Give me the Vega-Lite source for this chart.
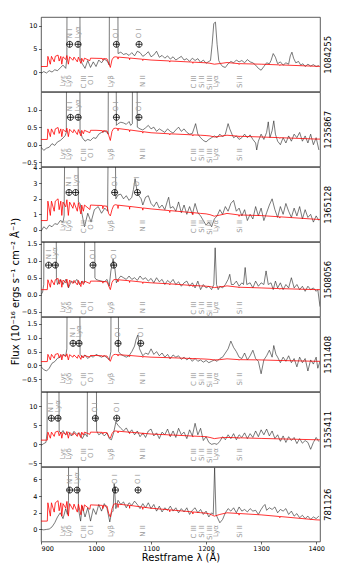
{
"$schema": "https://vega.github.io/schema/vega-lite/v6.json",
"padding": {"left": 9, "top": 16, "right": 2, "bottom": 2},
"spacing": 0,
"bounds": "flush",
"config": {
 "font": "DejaVu Sans",
 "view": {"stroke": "#333", "strokeWidth": 0.8},
 "axis": {"grid": false, "domain": false, "tickColor": "#000", "tickSize": 2.5, "tickWidth": 0.6, "labelFontSize": 6.5, "labelColor": "#000", "labelPadding": 1.5, "titleFontWeight": "normal", "titleColor": "#000", "titleFontSize": 10, "labelFont": "DejaVu Sans", "titleFont": "DejaVu Sans"}
},
"datasets": {
 "lines": [{"w":939.3,"t":"Lyε"},{"w":951.2,"t":"Lyδ"},{"w":978.5,"t":"C III"},{"w":990.3,"t":"O I"},{"w":1027.2,"t":"Lyβ"},{"w":1085.5,"t":"N II"},{"w":1177.2,"t":"C III"},{"w":1191.9,"t":"Si II"},{"w":1208,"t":"Si III"},{"w":1217.2,"t":"Lyα"},{"w":1261.9,"t":"Si II"}],
 "sky": [
  {"p":1,"w":952.1,"t":"N I"},{"p":1,"w":967.3,"t":"Lyα"},{"p":1,"w":1037,"t":"O I"},{"p":1,"w":1078.2,"t":"O I"},
  {"p":2,"w":953.5,"t":"N I"},{"p":2,"w":967.5,"t":"Lyα"},{"p":2,"w":1037,"t":"O I"},{"p":2,"w":1078,"t":"O I"},
  {"p":3,"w":950.9,"t":"N I"},{"p":3,"w":963,"t":"Lyα"},{"p":3,"w":1033.9,"t":"O I"},{"p":3,"w":1075.2,"t":"O I"},
  {"p":4,"w":913.9,"t":"N I"},{"p":4,"w":926.1,"t":"Lyα"},{"p":4,"w":994.5,"t":"O I"},{"p":4,"w":1032.1,"t":"O I"},
  {"p":5,"w":958.2,"t":"N I"},{"p":5,"w":969.1,"t":"Lyα"},{"p":5,"w":1040,"t":"O I"},{"p":5,"w":1081.2,"t":"O I"},
  {"p":6,"w":918.8,"t":"N I"},{"p":6,"w":930.9,"t":"Lyα"},{"p":6,"w":998.8,"t":"O I"},{"p":6,"w":1037.6,"t":"O I"},
  {"p":7,"w":952.1,"t":"N I"},{"p":7,"w":965.5,"t":"Lyα"},{"p":7,"w":1035.2,"t":"O I"},{"p":7,"w":1076.4,"t":"O I"}
 ],
 "red": [
  {"w":900,"r1":1.2,"r2":0.15,"r3":0.6,"r4":0.15,"r5":0.14,"r6":1.1,"r7":1.0},
  {"w":911.5,"r1":1.2,"r2":0.15,"r3":0.6,"r4":0.15,"r5":0.14,"r6":1.1,"r7":1.0},
  {"w":912.5,"r1":3.4,"r2":0.45,"r3":1.85,"r4":0.44,"r5":0.40,"r6":3.2,"r7":3.2},
  {"w":917,"r1":1.7,"r2":0.23,"r3":0.93,"r4":0.22,"r5":0.20,"r6":1.6,"r7":1.6},
  {"w":919,"r1":3.4,"r2":0.45,"r3":1.85,"r4":0.44,"r5":0.40,"r6":3.2,"r7":3.2},
  {"w":924,"r1":2.21,"r2":0.29,"r3":1.2,"r4":0.29,"r5":0.26,"r6":2.08,"r7":2.08},
  {"w":926,"r1":3.4,"r2":0.45,"r3":1.85,"r4":0.44,"r5":0.40,"r6":3.2,"r7":3.2},
  {"w":931,"r1":3.67,"r2":0.49,"r3":2.0,"r4":0.48,"r5":0.43,"r6":3.46,"r7":3.46},
  {"w":933,"r1":2.38,"r2":0.32,"r3":1.3,"r4":0.31,"r5":0.28,"r6":2.24,"r7":2.24},
  {"w":936,"r1":3.4,"r2":0.45,"r3":1.85,"r4":0.44,"r5":0.40,"r6":3.2,"r7":3.2},
  {"w":937.8,"r1":1.7,"r2":0.23,"r3":0.93,"r4":0.22,"r5":0.20,"r6":1.6,"r7":1.6},
  {"w":940,"r1":3.3,"r2":0.44,"r3":1.79,"r4":0.43,"r5":0.39,"r6":3.1,"r7":3.1},
  {"w":945,"r1":2.72,"r2":0.36,"r3":1.48,"r4":0.35,"r5":0.32,"r6":2.56,"r7":2.56},
  {"w":947,"r1":3.57,"r2":0.47,"r3":1.94,"r4":0.46,"r5":0.42,"r6":3.36,"r7":3.36},
  {"w":949.7,"r1":1.7,"r2":0.23,"r3":0.93,"r4":0.22,"r5":0.20,"r6":1.6,"r7":1.6},
  {"w":952,"r1":3.3,"r2":0.44,"r3":1.79,"r4":0.43,"r5":0.39,"r6":3.1,"r7":3.1},
  {"w":958,"r1":2.55,"r2":0.34,"r3":1.39,"r4":0.33,"r5":0.30,"r6":2.4,"r7":2.4},
  {"w":960,"r1":3.23,"r2":0.43,"r3":1.76,"r4":0.42,"r5":0.38,"r6":3.04,"r7":3.04},
  {"w":966,"r1":2.21,"r2":0.29,"r3":1.2,"r4":0.29,"r5":0.26,"r6":2.08,"r7":2.08},
  {"w":968,"r1":3.23,"r2":0.43,"r3":1.76,"r4":0.42,"r5":0.38,"r6":3.04,"r7":3.04},
  {"w":972.5,"r1":1.87,"r2":0.25,"r3":1.02,"r4":0.24,"r5":0.22,"r6":1.76,"r7":1.76},
  {"w":974,"r1":3.0,"r2":0.41,"r3":1.6,"r4":0.40,"r5":0.36,"r6":3.2,"r7":2.95},
  {"w":977,"r1":2.25,"r2":0.31,"r3":1.2,"r4":0.30,"r5":0.27,"r6":2.4,"r7":2.21},
  {"w":979,"r1":3.0,"r2":0.41,"r3":1.6,"r4":0.40,"r5":0.36,"r6":3.2,"r7":2.95},
  {"w":988.8,"r1":2.46,"r2":0.34,"r3":1.31,"r4":0.33,"r5":0.30,"r6":2.62,"r7":2.42},
  {"w":990,"r1":3.0,"r2":0.41,"r3":1.6,"r4":0.40,"r5":0.36,"r6":3.2,"r7":2.95},
  {"w":1000,"r1":2.97,"r2":0.41,"r3":1.58,"r4":0.40,"r5":0.36,"r6":3.17,"r7":2.92},
  {"w":1011.5,"r1":2.94,"r2":0.40,"r3":1.57,"r4":0.39,"r5":0.35,"r6":3.14,"r7":2.89},
  {"w":1012.5,"r1":2.55,"r2":0.35,"r3":1.36,"r4":0.34,"r5":0.31,"r6":2.72,"r7":2.51},
  {"w":1013.5,"r1":2.91,"r2":0.40,"r3":1.55,"r4":0.39,"r5":0.35,"r6":3.1,"r7":2.86},
  {"w":1020,"r1":2.85,"r2":0.39,"r3":1.52,"r4":0.38,"r5":0.34,"r6":3.04,"r7":2.8},
  {"w":1023,"r1":1.95,"r2":0.27,"r3":1.04,"r4":0.26,"r5":0.23,"r6":2.08,"r7":1.92},
  {"w":1026,"r1":1.0,"r2":0.12,"r3":0.9,"r4":0.15,"r5":0.15,"r6":1.6,"r7":1.5},
  {"w":1029,"r1":2.64,"r2":0.38,"r3":1.3,"r4":0.36,"r5":0.32,"r6":2.8,"r7":2.48},
  {"w":1032,"r1":3.2,"r2":0.46,"r3":1.57,"r4":0.44,"r5":0.39,"r6":3.4,"r7":3.0},
  {"w":1035,"r1":3.3,"r2":0.47,"r3":1.62,"r4":0.45,"r5":0.40,"r6":3.5,"r7":3.1},
  {"w":1039.5,"r1":3.23,"r2":0.46,"r3":1.59,"r4":0.44,"r5":0.39,"r6":3.43,"r7":3.04},
  {"w":1040,"r1":2.8,"r2":0.40,"r3":1.38,"r4":0.38,"r5":0.34,"r6":2.98,"r7":2.64},
  {"w":1040.5,"r1":3.23,"r2":0.46,"r3":1.59,"r4":0.44,"r5":0.39,"r6":3.43,"r7":3.04},
  {"w":1060.5,"r1":3.03,"r2":0.42,"r3":1.51,"r4":0.41,"r5":0.36,"r6":3.19,"r7":2.89},
  {"w":1061,"r1":2.67,"r2":0.37,"r3":1.33,"r4":0.36,"r5":0.32,"r6":2.81,"r7":2.54},
  {"w":1061.5,"r1":3.03,"r2":0.42,"r3":1.51,"r4":0.41,"r5":0.36,"r6":3.19,"r7":2.89},
  {"w":1084.5,"r1":2.77,"r2":0.37,"r3":1.41,"r4":0.37,"r5":0.32,"r6":2.89,"r7":2.68},
  {"w":1085,"r1":2.49,"r2":0.33,"r3":1.27,"r4":0.33,"r5":0.29,"r6":2.6,"r7":2.41},
  {"w":1085.5,"r1":2.77,"r2":0.37,"r3":1.41,"r4":0.37,"r5":0.32,"r6":2.89,"r7":2.68},
  {"w":1100,"r1":2.6,"r2":0.34,"r3":1.35,"r4":0.35,"r5":0.30,"r6":2.7,"r7":2.55},
  {"w":1133.5,"r1":2.4,"r2":0.31,"r3":1.24,"r4":0.32,"r5":0.28,"r6":2.47,"r7":2.35},
  {"w":1134,"r1":2.16,"r2":0.28,"r3":1.12,"r4":0.29,"r5":0.25,"r6":2.22,"r7":2.12},
  {"w":1134.5,"r1":2.4,"r2":0.31,"r3":1.24,"r4":0.32,"r5":0.28,"r6":2.47,"r7":2.35},
  {"w":1175.5,"r1":2.15,"r2":0.28,"r3":1.11,"r4":0.27,"r5":0.25,"r6":2.17,"r7":2.1},
  {"w":1176,"r1":1.89,"r2":0.25,"r3":0.98,"r4":0.24,"r5":0.22,"r6":1.91,"r7":1.85},
  {"w":1176.5,"r1":2.15,"r2":0.28,"r3":1.11,"r4":0.27,"r5":0.25,"r6":2.17,"r7":2.1},
  {"w":1190,"r1":2.06,"r2":0.27,"r3":1.06,"r4":0.26,"r5":0.24,"r6":2.07,"r7":2.01},
  {"w":1200,"r1":2.0,"r2":0.26,"r3":1.03,"r4":0.25,"r5":0.23,"r6":2.0,"r7":1.95},
  {"w":1207,"r1":1.9,"r2":0.25,"r3":0.98,"r4":0.24,"r5":0.22,"r6":1.8,"r7":1.85},
  {"w":1215,"r1":1.7,"r2":0.22,"r3":0.88,"r4":0.21,"r5":0.20,"r6":1.5,"r7":1.6},
  {"w":1225,"r1":1.84,"r2":0.24,"r3":0.95,"r4":0.23,"r5":0.21,"r6":1.7,"r7":1.8},
  {"w":1238,"r1":2.06,"r2":0.27,"r3":1.06,"r4":0.26,"r5":0.24,"r6":1.8,"r7":2.0},
  {"w":1259.5,"r1":1.82,"r2":0.24,"r3":0.96,"r4":0.22,"r5":0.21,"r6":1.71,"r7":1.91},
  {"w":1260,"r1":1.64,"r2":0.21,"r3":0.87,"r4":0.20,"r5":0.19,"r6":1.54,"r7":1.72},
  {"w":1260.5,"r1":1.82,"r2":0.24,"r3":0.96,"r4":0.22,"r5":0.21,"r6":1.71,"r7":1.91},
  {"w":1300,"r1":1.7,"r2":0.22,"r3":0.92,"r4":0.20,"r5":0.20,"r6":1.55,"r7":1.75},
  {"w":1333.5,"r1":1.55,"r2":0.20,"r3":0.84,"r4":0.18,"r5":0.18,"r6":1.43,"r7":1.55},
  {"w":1334,"r1":1.4,"r2":0.18,"r3":0.76,"r4":0.16,"r5":0.16,"r6":1.29,"r7":1.4},
  {"w":1334.5,"r1":1.55,"r2":0.20,"r3":0.84,"r4":0.18,"r5":0.18,"r6":1.43,"r7":1.55},
  {"w":1400,"r1":1.25,"r2":0.16,"r3":0.68,"r4":0.15,"r5":0.15,"r6":1.2,"r7":1.15},
  {"w":1407,"r1":1.23,"r2":0.16,"r3":0.67,"r4":0.15,"r5":0.15,"r6":1.18,"r7":1.13}
 ],
 "b1": [{"w":900,"f":-0.3},{"w":905,"f":0.1},{"w":910,"f":-0.2},{"w":915,"f":0.3},{"w":920,"f":0.0},{"w":925,"f":0.5},{"w":930,"f":0.3},{"w":935,"f":0.9},{"w":940,"f":1.5},{"w":945,"f":0.8},{"w":947,"f":3},{"w":949,"f":99},{"w":969,"f":99},{"w":971,"f":3.0},{"w":975,"f":1.8},{"w":980,"f":0.8},{"w":985,"f":2.5},{"w":990,"f":1.0},{"w":995,"f":2.2},{"w":1000,"f":1.2},{"w":1005,"f":2.6},{"w":1010,"f":2.0},{"w":1015,"f":2.8},{"w":1020,"f":2.4},{"w":1024,"f":1.5},{"w":1026,"f":99},{"w":1038,"f":99},{"w":1040,"f":4.0},{"w":1045,"f":4.3},{"w":1050,"f":3.8},{"w":1055,"f":4.0},{"w":1060,"f":3.6},{"w":1065,"f":4.2},{"w":1070,"f":3.5},{"w":1075,"f":4.5},{"w":1080,"f":4.2},{"w":1085,"f":3.4},{"w":1090,"f":3.8},{"w":1095,"f":4.4},{"w":1100,"f":3.3},{"w":1105,"f":3.7},{"w":1110,"f":4.5},{"w":1115,"f":3.2},{"w":1120,"f":3.6},{"w":1125,"f":3.0},{"w":1130,"f":3.5},{"w":1135,"f":2.8},{"w":1140,"f":3.3},{"w":1145,"f":2.6},{"w":1150,"f":3.0},{"w":1155,"f":3.4},{"w":1160,"f":2.6},{"w":1165,"f":2.9},{"w":1170,"f":2.3},{"w":1175,"f":3.0},{"w":1180,"f":2.5},{"w":1185,"f":2.9},{"w":1190,"f":2.1},{"w":1195,"f":2.6},{"w":1200,"f":1.9},{"w":1205,"f":2.3},{"w":1208,"f":2.5},{"w":1211,"f":6.0},{"w":1214,"f":10.5},{"w":1217,"f":10.8},{"w":1220,"f":6.0},{"w":1223,"f":2.5},{"w":1226,"f":1.8},{"w":1230,"f":1.2},{"w":1235,"f":1.0},{"w":1240,"f":1.8},{"w":1245,"f":2.3},{"w":1250,"f":2.0},{"w":1255,"f":2.6},{"w":1260,"f":2.2},{"w":1265,"f":2.5},{"w":1270,"f":2.0},{"w":1275,"f":2.7},{"w":1280,"f":2.2},{"w":1285,"f":2.0},{"w":1290,"f":1.5},{"w":1295,"f":0.8},{"w":1300,"f":0.4},{"w":1305,"f":1.2},{"w":1310,"f":2.0},{"w":1315,"f":1.8},{"w":1318,"f":2.5},{"w":1322,"f":4.0},{"w":1326,"f":3.2},{"w":1330,"f":1.8},{"w":1335,"f":2.2},{"w":1340,"f":1.5},{"w":1345,"f":2.0},{"w":1350,"f":1.7},{"w":1353,"f":3.5},{"w":1356,"f":4.3},{"w":1359,"f":3.0},{"w":1363,"f":2.0},{"w":1368,"f":2.3},{"w":1372,"f":1.5},{"w":1376,"f":1.8},{"w":1380,"f":1.2},{"w":1385,"f":1.7},{"w":1390,"f":1.3},{"w":1395,"f":1.6},{"w":1400,"f":1.2},{"w":1405,"f":1.4}],
 "b2": [{"w":900,"f":-0.07},{"w":905,"f":-0.16},{"w":910,"f":-0.1},{"w":915,"f":-0.07},{"w":920,"f":0.03},{"w":925,"f":-0.02},{"w":930,"f":0.08},{"w":935,"f":0.12},{"w":940,"f":0.19},{"w":944,"f":0.26},{"w":946,"f":0.35},{"w":948,"f":9},{"w":969,"f":9},{"w":971,"f":0.4},{"w":975,"f":0.2},{"w":980,"f":0.1},{"w":985,"f":0.15},{"w":990,"f":0.12},{"w":995,"f":0.2},{"w":1000,"f":0.18},{"w":1005,"f":0.3},{"w":1010,"f":0.35},{"w":1015,"f":0.38},{"w":1020,"f":0.36},{"w":1022,"f":0.3},{"w":1024,"f":9},{"w":1035,"f":9},{"w":1037,"f":0.55},{"w":1040,"f":0.6},{"w":1045,"f":0.64},{"w":1050,"f":0.62},{"w":1055,"f":0.58},{"w":1060,"f":0.66},{"w":1063,"f":0.55},{"w":1066,"f":0.6},{"w":1067,"f":9},{"w":1073,"f":9},{"w":1075,"f":0.5},{"w":1080,"f":0.45},{"w":1085,"f":0.42},{"w":1090,"f":0.48},{"w":1095,"f":0.55},{"w":1100,"f":0.45},{"w":1105,"f":0.5},{"w":1110,"f":0.38},{"w":1115,"f":0.45},{"w":1120,"f":0.4},{"w":1125,"f":0.35},{"w":1130,"f":0.45},{"w":1135,"f":0.38},{"w":1140,"f":0.33},{"w":1145,"f":0.42},{"w":1150,"f":0.5},{"w":1155,"f":0.38},{"w":1160,"f":0.45},{"w":1165,"f":0.35},{"w":1170,"f":0.3},{"w":1175,"f":0.32},{"w":1181,"f":0.6},{"w":1185,"f":0.3},{"w":1190,"f":0.2},{"w":1195,"f":0.12},{"w":1200,"f":0.08},{"w":1205,"f":0.15},{"w":1210,"f":0.2},{"w":1215,"f":0.25},{"w":1220,"f":0.2},{"w":1225,"f":0.3},{"w":1230,"f":0.22},{"w":1235,"f":0.3},{"w":1240,"f":0.6},{"w":1243,"f":0.45},{"w":1247,"f":0.3},{"w":1250,"f":0.2},{"w":1255,"f":0.25},{"w":1260,"f":0.15},{"w":1265,"f":0.2},{"w":1270,"f":0.3},{"w":1275,"f":0.2},{"w":1280,"f":0.28},{"w":1285,"f":0.15},{"w":1290,"f":0.05},{"w":1292,"f":-0.15},{"w":1295,"f":0.1},{"w":1300,"f":0.3},{"w":1305,"f":0.15},{"w":1310,"f":0.35},{"w":1313,"f":0.65},{"w":1316,"f":0.2},{"w":1320,"f":0.4},{"w":1323,"f":0.68},{"w":1326,"f":0.3},{"w":1330,"f":0.1},{"w":1335,"f":0.0},{"w":1340,"f":0.2},{"w":1345,"f":0.05},{"w":1350,"f":0.25},{"w":1355,"f":0.1},{"w":1360,"f":0.3},{"w":1365,"f":0.2},{"w":1370,"f":0.35},{"w":1375,"f":0.1},{"w":1380,"f":0.25},{"w":1385,"f":0.05},{"w":1390,"f":0.3},{"w":1395,"f":0.0},{"w":1400,"f":0.2},{"w":1405,"f":-0.15}],
 "b3": [{"w":900,"f":-0.1},{"w":905,"f":0.2},{"w":910,"f":0.05},{"w":915,"f":0.3},{"w":920,"f":0.2},{"w":925,"f":0.4},{"w":930,"f":0.35},{"w":935,"f":0.6},{"w":940,"f":0.5},{"w":942,"f":0.9},{"w":944,"f":9},{"w":966,"f":9},{"w":968,"f":1.8},{"w":971,"f":1.7},{"w":976,"f":0.75},{"w":979,"f":0.2},{"w":985,"f":1.07},{"w":991,"f":0.5},{"w":997,"f":1.3},{"w":1004,"f":1.5},{"w":1010,"f":1.07},{"w":1016,"f":1.4},{"w":1021,"f":1.2},{"w":1023,"f":9},{"w":1034,"f":9},{"w":1036,"f":2.0},{"w":1040,"f":2.25},{"w":1045,"f":2.3},{"w":1050,"f":2.0},{"w":1055,"f":2.2},{"w":1060,"f":1.9},{"w":1065,"f":2.1},{"w":1068,"f":2.6},{"w":1071,"f":3.3},{"w":1074,"f":2.6},{"w":1078,"f":2.2},{"w":1082,"f":2.0},{"w":1085,"f":1.6},{"w":1090,"f":2.1},{"w":1095,"f":2.2},{"w":1100,"f":1.7},{"w":1105,"f":1.5},{"w":1110,"f":1.8},{"w":1115,"f":1.4},{"w":1120,"f":1.6},{"w":1125,"f":1.3},{"w":1130,"f":1.9},{"w":1132,"f":2.1},{"w":1135,"f":1.4},{"w":1140,"f":1.5},{"w":1145,"f":1.2},{"w":1150,"f":1.8},{"w":1155,"f":1.1},{"w":1160,"f":1.6},{"w":1165,"f":1.0},{"w":1170,"f":1.5},{"w":1175,"f":1.0},{"w":1180,"f":1.7},{"w":1185,"f":1.1},{"w":1190,"f":0.9},{"w":1195,"f":0.6},{"w":1200,"f":0.3},{"w":1205,"f":0.5},{"w":1210,"f":0.2},{"w":1215,"f":0.7},{"w":1220,"f":0.9},{"w":1225,"f":1.3},{"w":1230,"f":1.0},{"w":1235,"f":1.5},{"w":1240,"f":1.2},{"w":1245,"f":1.7},{"w":1250,"f":1.9},{"w":1255,"f":1.2},{"w":1260,"f":1.4},{"w":1265,"f":0.9},{"w":1270,"f":1.3},{"w":1275,"f":0.6},{"w":1280,"f":1.0},{"w":1285,"f":0.7},{"w":1290,"f":1.5},{"w":1295,"f":0.9},{"w":1300,"f":1.4},{"w":1305,"f":0.6},{"w":1310,"f":1.1},{"w":1315,"f":1.6},{"w":1320,"f":2.0},{"w":1325,"f":1.3},{"w":1330,"f":0.8},{"w":1335,"f":1.5},{"w":1340,"f":1.0},{"w":1345,"f":1.7},{"w":1350,"f":1.2},{"w":1355,"f":0.8},{"w":1360,"f":1.4},{"w":1365,"f":0.9},{"w":1370,"f":1.5},{"w":1375,"f":0.7},{"w":1380,"f":1.3},{"w":1385,"f":0.8},{"w":1390,"f":1.0},{"w":1395,"f":0.5},{"w":1400,"f":0.9},{"w":1405,"f":0.6}],
 "b4": [{"w":900,"f":0.0},{"w":903,"f":0.08},{"w":905,"f":0.3},{"w":907,"f":9},{"w":926,"f":9},{"w":928,"f":0.5},{"w":930,"f":0.3},{"w":935,"f":0.45},{"w":940,"f":0.3},{"w":945,"f":0.45},{"w":950,"f":0.2},{"w":955,"f":0.4},{"w":960,"f":0.35},{"w":965,"f":0.45},{"w":970,"f":0.3},{"w":975,"f":0.4},{"w":979,"f":0.35},{"w":981,"f":9},{"w":996,"f":9},{"w":998,"f":0.5},{"w":1000,"f":0.45},{"w":1005,"f":0.42},{"w":1010,"f":0.4},{"w":1015,"f":0.38},{"w":1020,"f":0.45},{"w":1024,"f":0.25},{"w":1027,"f":0.7},{"w":1031,"f":1.05},{"w":1034,"f":0.8},{"w":1037,"f":0.35},{"w":1040,"f":0.45},{"w":1045,"f":0.55},{"w":1050,"f":0.5},{"w":1055,"f":0.45},{"w":1060,"f":0.55},{"w":1065,"f":0.45},{"w":1070,"f":0.5},{"w":1075,"f":0.42},{"w":1080,"f":0.55},{"w":1085,"f":0.45},{"w":1090,"f":0.5},{"w":1095,"f":0.4},{"w":1100,"f":0.48},{"w":1105,"f":0.35},{"w":1110,"f":0.5},{"w":1115,"f":0.38},{"w":1120,"f":0.45},{"w":1125,"f":0.3},{"w":1130,"f":0.42},{"w":1135,"f":0.35},{"w":1140,"f":0.45},{"w":1145,"f":0.3},{"w":1150,"f":0.38},{"w":1155,"f":0.25},{"w":1160,"f":0.35},{"w":1165,"f":0.4},{"w":1170,"f":0.25},{"w":1175,"f":0.35},{"w":1180,"f":0.2},{"w":1185,"f":0.4},{"w":1190,"f":0.15},{"w":1195,"f":0.3},{"w":1200,"f":0.2},{"w":1205,"f":0.25},{"w":1210,"f":0.15},{"w":1214,"f":0.3},{"w":1216.5,"f":1.38},{"w":1219,"f":0.3},{"w":1222,"f":0.15},{"w":1225,"f":0.25},{"w":1230,"f":0.2},{"w":1235,"f":0.3},{"w":1240,"f":0.45},{"w":1243,"f":0.6},{"w":1246,"f":0.3},{"w":1250,"f":0.3},{"w":1255,"f":0.4},{"w":1260,"f":0.25},{"w":1265,"f":0.35},{"w":1268,"f":0.3},{"w":1271,"f":0.8},{"w":1274,"f":0.3},{"w":1280,"f":0.35},{"w":1285,"f":0.2},{"w":1290,"f":0.4},{"w":1295,"f":0.25},{"w":1300,"f":0.35},{"w":1305,"f":0.3},{"w":1309,"f":0.7},{"w":1313,"f":0.3},{"w":1318,"f":0.35},{"w":1322,"f":0.15},{"w":1326,"f":0.4},{"w":1330,"f":0.2},{"w":1335,"f":0.35},{"w":1340,"f":0.15},{"w":1345,"f":0.3},{"w":1350,"f":0.2},{"w":1355,"f":0.5},{"w":1360,"f":0.2},{"w":1365,"f":0.3},{"w":1370,"f":0.15},{"w":1375,"f":0.25},{"w":1380,"f":0.1},{"w":1385,"f":0.25},{"w":1390,"f":0.15},{"w":1395,"f":0.2},{"w":1400,"f":0.1},{"w":1403,"f":0.15},{"w":1407,"f":-0.35}],
 "b5": [{"w":900,"f":-0.04},{"w":905,"f":-0.15},{"w":910,"f":-0.2},{"w":915,"f":-0.1},{"w":920,"f":0.08},{"w":925,"f":0.14},{"w":930,"f":0.26},{"w":935,"f":0.3},{"w":940,"f":0.4},{"w":945,"f":0.35},{"w":947,"f":0.6},{"w":949,"f":9},{"w":969,"f":9},{"w":971,"f":0.4},{"w":975,"f":0.3},{"w":980,"f":0.38},{"w":985,"f":0.25},{"w":990,"f":0.35},{"w":995,"f":0.3},{"w":1000,"f":0.4},{"w":1005,"f":0.35},{"w":1010,"f":0.3},{"w":1015,"f":0.35},{"w":1020,"f":0.28},{"w":1024,"f":0.2},{"w":1027,"f":0.5},{"w":1028,"f":9},{"w":1039,"f":9},{"w":1041,"f":0.5},{"w":1045,"f":0.4},{"w":1050,"f":0.35},{"w":1055,"f":0.3},{"w":1060,"f":0.35},{"w":1065,"f":0.5},{"w":1070,"f":0.7},{"w":1073,"f":0.95},{"w":1076,"f":1.1},{"w":1079,"f":0.6},{"w":1085,"f":0.35},{"w":1090,"f":0.45},{"w":1095,"f":0.4},{"w":1100,"f":0.6},{"w":1105,"f":0.4},{"w":1110,"f":0.5},{"w":1115,"f":0.35},{"w":1120,"f":0.45},{"w":1125,"f":0.3},{"w":1130,"f":0.4},{"w":1135,"f":0.25},{"w":1140,"f":0.38},{"w":1145,"f":0.3},{"w":1150,"f":0.35},{"w":1155,"f":0.22},{"w":1160,"f":0.3},{"w":1165,"f":0.2},{"w":1170,"f":0.28},{"w":1175,"f":0.15},{"w":1180,"f":0.25},{"w":1185,"f":0.15},{"w":1190,"f":0.2},{"w":1195,"f":0.12},{"w":1200,"f":0.18},{"w":1205,"f":0.1},{"w":1210,"f":0.15},{"w":1215,"f":0.2},{"w":1220,"f":0.15},{"w":1225,"f":0.25},{"w":1230,"f":0.3},{"w":1235,"f":0.45},{"w":1240,"f":0.6},{"w":1245,"f":0.88},{"w":1250,"f":0.65},{"w":1255,"f":0.5},{"w":1260,"f":0.3},{"w":1265,"f":0.25},{"w":1270,"f":0.45},{"w":1275,"f":0.2},{"w":1280,"f":0.35},{"w":1285,"f":0.55},{"w":1290,"f":0.25},{"w":1295,"f":0.15},{"w":1300,"f":-0.3},{"w":1305,"f":0.2},{"w":1310,"f":0.35},{"w":1315,"f":0.55},{"w":1320,"f":0.3},{"w":1323,"f":0.72},{"w":1327,"f":0.4},{"w":1330,"f":0.3},{"w":1335,"f":0.1},{"w":1340,"f":0.3},{"w":1345,"f":0.15},{"w":1350,"f":0.35},{"w":1355,"f":0.1},{"w":1360,"f":0.25},{"w":1365,"f":-0.05},{"w":1370,"f":0.3},{"w":1375,"f":0.1},{"w":1380,"f":0.25},{"w":1385,"f":-0.2},{"w":1390,"f":0.2},{"w":1395,"f":0.05},{"w":1400,"f":0.3},{"w":1403,"f":-0.1},{"w":1407,"f":0.15}],
 "b6": [{"w":900,"f":-0.3},{"w":905,"f":0.2},{"w":909,"f":0.5},{"w":911,"f":3.0},{"w":913,"f":99},{"w":930,"f":99},{"w":933,"f":3.5},{"w":936,"f":2.8},{"w":940,"f":3.6},{"w":945,"f":2.5},{"w":950,"f":3.2},{"w":955,"f":2.2},{"w":960,"f":3.4},{"w":965,"f":2.6},{"w":970,"f":3.0},{"w":975,"f":1.5},{"w":980,"f":2.8},{"w":984,"f":2.0},{"w":986,"f":99},{"w":999,"f":99},{"w":1001,"f":3.5},{"w":1005,"f":2.5},{"w":1010,"f":3.0},{"w":1015,"f":2.2},{"w":1020,"f":3.0},{"w":1024,"f":1.5},{"w":1028,"f":1.2},{"w":1032,"f":3.0},{"w":1036,"f":5.8},{"w":1040,"f":5.0},{"w":1045,"f":4.2},{"w":1050,"f":3.5},{"w":1055,"f":4.3},{"w":1060,"f":3.0},{"w":1065,"f":3.8},{"w":1070,"f":2.5},{"w":1075,"f":3.5},{"w":1080,"f":2.0},{"w":1085,"f":3.0},{"w":1090,"f":1.8},{"w":1095,"f":3.5},{"w":1100,"f":4.0},{"w":1105,"f":2.2},{"w":1110,"f":3.0},{"w":1115,"f":1.5},{"w":1120,"f":3.2},{"w":1125,"f":2.5},{"w":1130,"f":4.0},{"w":1135,"f":2.0},{"w":1140,"f":3.5},{"w":1145,"f":1.8},{"w":1150,"f":4.2},{"w":1155,"f":2.5},{"w":1160,"f":3.2},{"w":1165,"f":1.5},{"w":1170,"f":3.8},{"w":1175,"f":2.2},{"w":1180,"f":5.5},{"w":1185,"f":2.5},{"w":1190,"f":4.2},{"w":1195,"f":1.0},{"w":1200,"f":2.0},{"w":1205,"f":0.5},{"w":1210,"f":0.0},{"w":1215,"f":0.2},{"w":1220,"f":0.0},{"w":1225,"f":0.8},{"w":1230,"f":2.0},{"w":1235,"f":1.2},{"w":1240,"f":2.5},{"w":1245,"f":1.5},{"w":1250,"f":2.8},{"w":1255,"f":1.2},{"w":1260,"f":2.5},{"w":1265,"f":1.8},{"w":1270,"f":3.0},{"w":1275,"f":1.5},{"w":1280,"f":2.8},{"w":1285,"f":1.8},{"w":1290,"f":3.5},{"w":1295,"f":2.0},{"w":1300,"f":3.8},{"w":1305,"f":2.5},{"w":1310,"f":4.0},{"w":1315,"f":2.2},{"w":1320,"f":3.5},{"w":1325,"f":1.5},{"w":1330,"f":2.5},{"w":1335,"f":0.8},{"w":1340,"f":2.2},{"w":1345,"f":0.5},{"w":1350,"f":2.0},{"w":1355,"f":1.0},{"w":1360,"f":1.8},{"w":1365,"f":0.2},{"w":1370,"f":1.5},{"w":1375,"f":0.3},{"w":1380,"f":1.0},{"w":1385,"f":0.5},{"w":1390,"f":-1.3},{"w":1395,"f":0.5},{"w":1400,"f":1.8},{"w":1405,"f":0.7}],
 "b7": [{"w":900,"f":0.0},{"w":905,"f":-0.05},{"w":910,"f":0.0},{"w":915,"f":0.05},{"w":920,"f":0.3},{"w":925,"f":0.8},{"w":930,"f":1.5},{"w":935,"f":2.0},{"w":940,"f":1.3},{"w":945,"f":2.5},{"w":948,"f":1.8},{"w":950,"f":3.5},{"w":952,"f":99},{"w":966,"f":99},{"w":968,"f":2.5},{"w":972,"f":1.0},{"w":975,"f":2.8},{"w":980,"f":1.5},{"w":985,"f":2.6},{"w":990,"f":1.0},{"w":995,"f":2.5},{"w":1000,"f":1.8},{"w":1005,"f":3.0},{"w":1010,"f":2.2},{"w":1015,"f":3.1},{"w":1020,"f":2.5},{"w":1025,"f":0.9},{"w":1028,"f":2.0},{"w":1031,"f":2.2},{"w":1033,"f":5.5},{"w":1036,"f":2.5},{"w":1040,"f":3.5},{"w":1045,"f":3.0},{"w":1050,"f":3.3},{"w":1055,"f":2.6},{"w":1060,"f":3.2},{"w":1065,"f":2.9},{"w":1070,"f":3.4},{"w":1075,"f":3.0},{"w":1080,"f":2.5},{"w":1085,"f":3.1},{"w":1090,"f":2.6},{"w":1095,"f":3.2},{"w":1100,"f":2.5},{"w":1105,"f":3.0},{"w":1110,"f":2.2},{"w":1115,"f":2.8},{"w":1120,"f":2.1},{"w":1125,"f":2.6},{"w":1130,"f":2.3},{"w":1135,"f":2.8},{"w":1140,"f":2.2},{"w":1145,"f":2.6},{"w":1150,"f":2.0},{"w":1155,"f":2.5},{"w":1160,"f":2.1},{"w":1165,"f":2.6},{"w":1170,"f":1.8},{"w":1175,"f":2.3},{"w":1180,"f":2.6},{"w":1185,"f":2.0},{"w":1190,"f":2.4},{"w":1195,"f":1.8},{"w":1200,"f":2.2},{"w":1205,"f":1.5},{"w":1210,"f":2.0},{"w":1213,"f":1.8},{"w":1215.5,"f":7.4},{"w":1218,"f":1.8},{"w":1220,"f":1.5},{"w":1225,"f":0.8},{"w":1230,"f":1.2},{"w":1235,"f":2.0},{"w":1240,"f":2.5},{"w":1245,"f":2.2},{"w":1250,"f":2.6},{"w":1255,"f":2.0},{"w":1260,"f":2.7},{"w":1265,"f":2.2},{"w":1270,"f":2.4},{"w":1275,"f":2.1},{"w":1280,"f":2.5},{"w":1285,"f":2.2},{"w":1290,"f":2.3},{"w":1295,"f":1.8},{"w":1300,"f":2.4},{"w":1304,"f":2.8},{"w":1307,"f":3.0},{"w":1310,"f":2.3},{"w":1315,"f":2.6},{"w":1320,"f":2.4},{"w":1325,"f":2.7},{"w":1330,"f":2.0},{"w":1335,"f":2.4},{"w":1340,"f":2.2},{"w":1345,"f":2.5},{"w":1350,"f":1.8},{"w":1355,"f":2.2},{"w":1360,"f":1.6},{"w":1365,"f":1.9},{"w":1370,"f":1.4},{"w":1375,"f":1.7},{"w":1380,"f":1.3},{"w":1385,"f":1.6},{"w":1390,"f":1.2},{"w":1395,"f":1.5},{"w":1400,"f":1.3},{"w":1405,"f":1.6}]
},
"vconcat": [
 {"width": 279, "height": 74.5,
  "encoding": {"x": {"field": "w", "type": "quantitative", "scale": {"domain": [900, 1407], "nice": false, "zero": false}, "axis": null}},
  "layer": [
   {"data": {"name": "b1"}, "mark": {"type": "line", "color": "#222", "strokeWidth": 0.6, "clip": true}, "encoding": {"y": {"field": "f", "type": "quantitative", "scale": {"domain": [-4.2, 11.9], "nice": false, "zero": false}, "axis": {"values": [0, 5, 10], "format": "d", "title": null}}}},
   {"data": {"name": "red"}, "mark": {"type": "line", "color": "#ff0000", "strokeWidth": 0.8, "clip": true}, "encoding": {"y": {"field": "r1", "type": "quantitative", "axis": {"orient": "right", "title": "1084255", "labels": false, "ticks": false, "titleAngle": 270, "titleBaseline": "top", "titleAlign": "center", "titlePadding": 3, "titleFontSize": 8.5}}}},
   {"data": {"name": "lines"}, "mark": {"type": "text", "angle": 270, "align": "right", "baseline": "middle", "fontSize": 7, "color": "#999"}, "encoding": {"y": {"datum": -0.7, "type": "quantitative", "axis": null}, "text": {"field": "t"}}},
   {"data": {"name": "sky"}, "transform": [{"filter": "datum.p == 1"}], "mark": {"type": "text", "angle": 270, "align": "left", "baseline": "middle", "dx": 6, "fontSize": 7, "color": "#999"}, "encoding": {"y": {"datum": 6.0, "type": "quantitative", "axis": null}, "text": {"field": "t"}}},
   {"data": {"name": "sky"}, "transform": [{"filter": "datum.p == 1"}], "mark": {"type": "point", "shape": "M-1,0A1,1,0,1,1,1,0A1,1,0,1,1,-1,0ZM-1,0L1,0M0,-1L0,1", "size": 36, "filled": false, "color": "#000", "strokeWidth": 0.8, "opacity": 1}, "encoding": {"y": {"datum": 6.0, "type": "quantitative", "axis": null}}}
  ],
  "resolve": {"axis": {"y": "independent"}}
 },
 {"width": 279, "height": 74.5,
  "encoding": {"x": {"field": "w", "type": "quantitative", "scale": {"domain": [900, 1407], "nice": false, "zero": false}, "axis": null}},
  "layer": [
   {"data": {"name": "b2"}, "mark": {"type": "line", "color": "#222", "strokeWidth": 0.6, "clip": true}, "encoding": {"y": {"field": "f", "type": "quantitative", "scale": {"domain": [-0.62, 1.5], "nice": false, "zero": false}, "axis": {"values": [-0.5, 0, 0.5, 1], "format": ".1f", "title": null}}}},
   {"data": {"name": "red"}, "mark": {"type": "line", "color": "#ff0000", "strokeWidth": 0.8, "clip": true}, "encoding": {"y": {"field": "r2", "type": "quantitative", "axis": {"orient": "right", "title": "1235867", "labels": false, "ticks": false, "titleAngle": 270, "titleBaseline": "top", "titleAlign": "center", "titlePadding": 3, "titleFontSize": 8.5}}}},
   {"data": {"name": "lines"}, "mark": {"type": "text", "angle": 270, "align": "right", "baseline": "middle", "fontSize": 7, "color": "#999"}, "encoding": {"y": {"datum": -0.1, "type": "quantitative", "axis": null}, "text": {"field": "t"}}},
   {"data": {"name": "sky"}, "transform": [{"filter": "datum.p == 2"}], "mark": {"type": "text", "angle": 270, "align": "left", "baseline": "middle", "dx": 6, "fontSize": 7, "color": "#999"}, "encoding": {"y": {"datum": 0.78, "type": "quantitative", "axis": null}, "text": {"field": "t"}}},
   {"data": {"name": "sky"}, "transform": [{"filter": "datum.p == 2"}], "mark": {"type": "point", "shape": "M-1,0A1,1,0,1,1,1,0A1,1,0,1,1,-1,0ZM-1,0L1,0M0,-1L0,1", "size": 36, "filled": false, "color": "#000", "strokeWidth": 0.8, "opacity": 1}, "encoding": {"y": {"datum": 0.78, "type": "quantitative", "axis": null}}}
  ],
  "resolve": {"axis": {"y": "independent"}}
 },
 {"width": 279, "height": 74.5,
  "encoding": {"x": {"field": "w", "type": "quantitative", "scale": {"domain": [900, 1407], "nice": false, "zero": false}, "axis": null}},
  "layer": [
   {"data": {"name": "b3"}, "mark": {"type": "line", "color": "#222", "strokeWidth": 0.6, "clip": true}, "encoding": {"y": {"field": "f", "type": "quantitative", "scale": {"domain": [-0.75, 4.05], "nice": false, "zero": false}, "axis": {"values": [0, 1, 2, 3, 4], "format": "d", "title": null}}}},
   {"data": {"name": "red"}, "mark": {"type": "line", "color": "#ff0000", "strokeWidth": 0.8, "clip": true}, "encoding": {"y": {"field": "r3", "type": "quantitative", "axis": {"orient": "right", "title": "1365128", "labels": false, "ticks": false, "titleAngle": 270, "titleBaseline": "top", "titleAlign": "center", "titlePadding": 3, "titleFontSize": 8.5}}}},
   {"data": {"name": "lines"}, "mark": {"type": "text", "angle": 270, "align": "right", "baseline": "middle", "fontSize": 7, "color": "#999"}, "encoding": {"y": {"datum": 0.64, "type": "quantitative", "axis": null}, "text": {"field": "t"}}},
   {"data": {"name": "sky"}, "transform": [{"filter": "datum.p == 3"}], "mark": {"type": "text", "angle": 270, "align": "left", "baseline": "middle", "dx": 6, "fontSize": 7, "color": "#999"}, "encoding": {"y": {"datum": 2.41, "type": "quantitative", "axis": null}, "text": {"field": "t"}}},
   {"data": {"name": "sky"}, "transform": [{"filter": "datum.p == 3"}], "mark": {"type": "point", "shape": "M-1,0A1,1,0,1,1,1,0A1,1,0,1,1,-1,0ZM-1,0L1,0M0,-1L0,1", "size": 36, "filled": false, "color": "#000", "strokeWidth": 0.8, "opacity": 1}, "encoding": {"y": {"datum": 2.41, "type": "quantitative", "axis": null}}}
  ],
  "resolve": {"axis": {"y": "independent"}}
 },
 {"width": 279, "height": 74.5,
  "encoding": {"x": {"field": "w", "type": "quantitative", "scale": {"domain": [900, 1407], "nice": false, "zero": false}, "axis": null}},
  "layer": [
   {"data": {"name": "b4"}, "mark": {"type": "line", "color": "#222", "strokeWidth": 0.6, "clip": true}, "encoding": {"y": {"field": "f", "type": "quantitative", "scale": {"domain": [-0.64, 1.55], "nice": false, "zero": false}, "axis": {"values": [-0.5, 0, 0.5, 1, 1.5], "format": ".1f", "title": "Flux (10⁻¹⁶ ergs s⁻¹ cm⁻² Å⁻¹)", "titleY": 49, "titlePadding": 1}}}},
   {"data": {"name": "red"}, "mark": {"type": "line", "color": "#ff0000", "strokeWidth": 0.8, "clip": true}, "encoding": {"y": {"field": "r4", "type": "quantitative", "axis": {"orient": "right", "title": "1508056", "labels": false, "ticks": false, "titleAngle": 270, "titleBaseline": "top", "titleAlign": "center", "titlePadding": 3, "titleFontSize": 8.5}}}},
   {"data": {"name": "lines"}, "mark": {"type": "text", "angle": 270, "align": "right", "baseline": "middle", "fontSize": 7, "color": "#999"}, "encoding": {"y": {"datum": -0.2, "type": "quantitative", "axis": null}, "text": {"field": "t"}}},
   {"data": {"name": "sky"}, "transform": [{"filter": "datum.p == 4"}], "mark": {"type": "text", "angle": 270, "align": "left", "baseline": "middle", "dx": 6, "fontSize": 7, "color": "#999"}, "encoding": {"y": {"datum": 0.87, "type": "quantitative", "axis": null}, "text": {"field": "t"}}},
   {"data": {"name": "sky"}, "transform": [{"filter": "datum.p == 4"}], "mark": {"type": "point", "shape": "M-1,0A1,1,0,1,1,1,0A1,1,0,1,1,-1,0ZM-1,0L1,0M0,-1L0,1", "size": 36, "filled": false, "color": "#000", "strokeWidth": 0.8, "opacity": 1}, "encoding": {"y": {"datum": 0.87, "type": "quantitative", "axis": null}}}
  ],
  "resolve": {"axis": {"y": "independent"}}
 },
 {"width": 279, "height": 74.5,
  "encoding": {"x": {"field": "w", "type": "quantitative", "scale": {"domain": [900, 1407], "nice": false, "zero": false}, "axis": null}},
  "layer": [
   {"data": {"name": "b5"}, "mark": {"type": "line", "color": "#222", "strokeWidth": 0.6, "clip": true}, "encoding": {"y": {"field": "f", "type": "quantitative", "scale": {"domain": [-0.94, 1.75], "nice": false, "zero": false}, "axis": {"values": [-0.5, 0, 0.5, 1, 1.5], "format": ".1f", "title": null}}}},
   {"data": {"name": "red"}, "mark": {"type": "line", "color": "#ff0000", "strokeWidth": 0.8, "clip": true}, "encoding": {"y": {"field": "r5", "type": "quantitative", "axis": {"orient": "right", "title": "1511408", "labels": false, "ticks": false, "titleAngle": 270, "titleBaseline": "top", "titleAlign": "center", "titlePadding": 3, "titleFontSize": 8.5}}}},
   {"data": {"name": "lines"}, "mark": {"type": "text", "angle": 270, "align": "right", "baseline": "middle", "fontSize": 7, "color": "#999"}, "encoding": {"y": {"datum": -0.26, "type": "quantitative", "axis": null}, "text": {"field": "t"}}},
   {"data": {"name": "sky"}, "transform": [{"filter": "datum.p == 5"}], "mark": {"type": "text", "angle": 270, "align": "left", "baseline": "middle", "dx": 6, "fontSize": 7, "color": "#999"}, "encoding": {"y": {"datum": 0.8, "type": "quantitative", "axis": null}, "text": {"field": "t"}}},
   {"data": {"name": "sky"}, "transform": [{"filter": "datum.p == 5"}], "mark": {"type": "point", "shape": "M-1,0A1,1,0,1,1,1,0A1,1,0,1,1,-1,0ZM-1,0L1,0M0,-1L0,1", "size": 36, "filled": false, "color": "#000", "strokeWidth": 0.8, "opacity": 1}, "encoding": {"y": {"datum": 0.8, "type": "quantitative", "axis": null}}}
  ],
  "resolve": {"axis": {"y": "independent"}}
 },
 {"width": 279, "height": 74.5,
  "encoding": {"x": {"field": "w", "type": "quantitative", "scale": {"domain": [900, 1407], "nice": false, "zero": false}, "axis": null}},
  "layer": [
   {"data": {"name": "b6"}, "mark": {"type": "line", "color": "#222", "strokeWidth": 0.6, "clip": true}, "encoding": {"y": {"field": "f", "type": "quantitative", "scale": {"domain": [-5.8, 13.7], "nice": false, "zero": false}, "axis": {"values": [-5, 0, 5, 10], "format": "d", "title": null}}}},
   {"data": {"name": "red"}, "mark": {"type": "line", "color": "#ff0000", "strokeWidth": 0.8, "clip": true}, "encoding": {"y": {"field": "r6", "type": "quantitative", "axis": {"orient": "right", "title": "1535411", "labels": false, "ticks": false, "titleAngle": 270, "titleBaseline": "top", "titleAlign": "center", "titlePadding": 3, "titleFontSize": 8.5}}}},
   {"data": {"name": "lines"}, "mark": {"type": "text", "angle": 270, "align": "right", "baseline": "middle", "fontSize": 7, "color": "#999"}, "encoding": {"y": {"datum": -1.0, "type": "quantitative", "axis": null}, "text": {"field": "t"}}},
   {"data": {"name": "sky"}, "transform": [{"filter": "datum.p == 6"}], "mark": {"type": "text", "angle": 270, "align": "left", "baseline": "middle", "dx": 6, "fontSize": 7, "color": "#999"}, "encoding": {"y": {"datum": 6.84, "type": "quantitative", "axis": null}, "text": {"field": "t"}}},
   {"data": {"name": "sky"}, "transform": [{"filter": "datum.p == 6"}], "mark": {"type": "point", "shape": "M-1,0A1,1,0,1,1,1,0A1,1,0,1,1,-1,0ZM-1,0L1,0M0,-1L0,1", "size": 36, "filled": false, "color": "#000", "strokeWidth": 0.8, "opacity": 1}, "encoding": {"y": {"datum": 6.84, "type": "quantitative", "axis": null}}}
  ],
  "resolve": {"axis": {"y": "independent"}}
 },
 {"width": 279, "height": 74.5,
  "encoding": {"x": {"field": "w", "type": "quantitative", "scale": {"domain": [900, 1407], "nice": false, "zero": false}, "axis": {"values": [900, 1000, 1100, 1200, 1300, 1400], "format": "d", "title": "Restframe λ (Å)", "titlePadding": 1, "labelPadding": 1}}},
  "layer": [
   {"data": {"name": "b7"}, "mark": {"type": "line", "color": "#222", "strokeWidth": 0.6, "clip": true}, "encoding": {"y": {"field": "f", "type": "quantitative", "scale": {"domain": [-1.45, 7.5], "nice": false, "zero": false}, "axis": {"values": [0, 2, 4, 6], "format": "d", "title": null}}}},
   {"data": {"name": "red"}, "mark": {"type": "line", "color": "#ff0000", "strokeWidth": 0.8, "clip": true}, "encoding": {"y": {"field": "r7", "type": "quantitative", "axis": {"orient": "right", "title": "781126", "labels": false, "ticks": false, "titleAngle": 270, "titleBaseline": "top", "titleAlign": "center", "titlePadding": 3, "titleFontSize": 8.5}}}},
   {"data": {"name": "lines"}, "mark": {"type": "text", "angle": 270, "align": "right", "baseline": "middle", "fontSize": 7, "color": "#999"}, "encoding": {"y": {"datum": 0.52, "type": "quantitative", "axis": null}, "text": {"field": "t"}}},
   {"data": {"name": "sky"}, "transform": [{"filter": "datum.p == 7"}], "mark": {"type": "text", "angle": 270, "align": "left", "baseline": "middle", "dx": 6, "fontSize": 7, "color": "#999"}, "encoding": {"y": {"datum": 4.73, "type": "quantitative", "axis": null}, "text": {"field": "t"}}},
   {"data": {"name": "sky"}, "transform": [{"filter": "datum.p == 7"}], "mark": {"type": "point", "shape": "M-1,0A1,1,0,1,1,1,0A1,1,0,1,1,-1,0ZM-1,0L1,0M0,-1L0,1", "size": 36, "filled": false, "color": "#000", "strokeWidth": 0.8, "opacity": 1}, "encoding": {"y": {"datum": 4.73, "type": "quantitative", "axis": null}}}
  ],
  "resolve": {"axis": {"y": "independent"}}
 }
]
}
